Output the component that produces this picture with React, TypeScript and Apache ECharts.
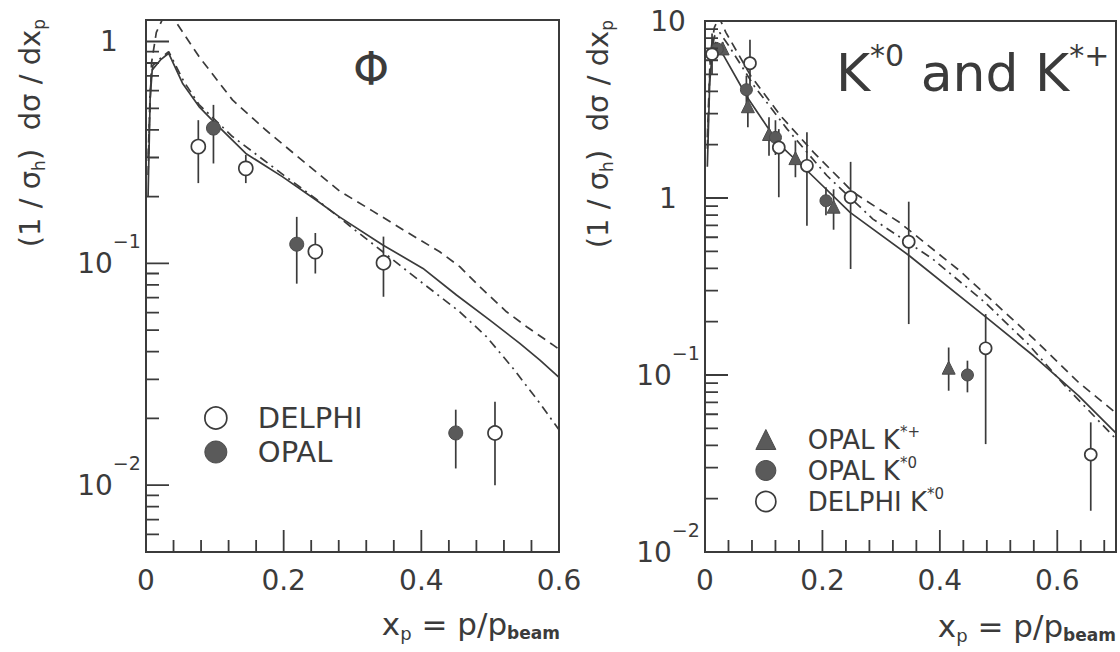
import React, { useEffect, useRef } from 'react';
import * as echarts from 'echarts';

// ---------- Left panel: phi ----------
const phiDelphiX = [0.076, 0.145, 0.246, 0.345, 0.507];
const phiDelphiY = [0.336, 0.268, 0.113, 0.1006, 0.0172];
const phiDelphiLo = [0.23, 0.23, 0.09, 0.0707, 0.01];
const phiDelphiHi = [0.442, 0.308, 0.137, 0.132, 0.0238];

const phiOpalX = [0.098, 0.219, 0.45];
const phiOpalY = [0.407, 0.122, 0.0172];
const phiOpalLo = [0.282, 0.081, 0.0119];
const phiOpalHi = [0.518, 0.162, 0.0219];

const phiSolidX = [0.003, 0.006, 0.009, 0.021, 0.033, 0.053, 0.077, 0.1, 0.145, 0.198, 0.247, 0.281, 0.344, 0.4024, 0.451, 0.4995, 0.543, 0.5723, 0.6];
const phiSolidY = [0.2, 0.55, 0.745, 0.826, 0.885, 0.649, 0.509, 0.43, 0.313, 0.246, 0.193, 0.162, 0.121, 0.0949, 0.072, 0.0555, 0.0436, 0.0366, 0.0306];

const phiDashX = [0.003, 0.008, 0.015, 0.026, 0.032, 0.038, 0.077, 0.1256, 0.174, 0.223, 0.281, 0.3295, 0.378, 0.4267, 0.4558, 0.485, 0.5238, 0.553, 0.5917, 0.6];
const phiDashY = [0.3, 0.8, 1.1, 1.3, 1.36, 1.3, 0.855, 0.5455, 0.399, 0.298, 0.212, 0.172, 0.139, 0.1128, 0.0966, 0.0784, 0.0605, 0.0518, 0.0428, 0.041];

const phiDashDotX = [0.003, 0.006, 0.01, 0.021, 0.033, 0.055, 0.077, 0.1256, 0.2, 0.247, 0.3004, 0.344, 0.4024, 0.4558, 0.4947, 0.5334, 0.5723, 0.5917, 0.6];
const phiDashDotY = [0.25, 0.6, 0.78, 0.84, 0.9, 0.66, 0.52, 0.373, 0.25, 0.195, 0.1439, 0.1128, 0.0812, 0.0605, 0.0467, 0.0336, 0.0234, 0.0193, 0.0178];

// ---------- Right panel: K*0 and K*+ ----------
const kpX = [0.03, 0.073, 0.109, 0.154, 0.219, 0.415];
const kpY = [7.0, 3.3, 2.3, 1.68, 0.893, 0.11];
const kpLo = [6.4, 2.51, 1.73, 1.31, 0.662, 0.0815];
const kpHi = [7.6, 4.04, 2.86, 2.11, 1.12, 0.143];

const k0OpalX = [0.021, 0.0705, 0.12, 0.206, 0.447];
const k0OpalY = [6.95, 4.09, 2.2, 0.965, 0.1];
const k0OpalLo = [6.3, 3.4, 1.75, 0.8, 0.0798];
const k0OpalHi = [7.6, 4.91, 2.75, 1.15, 0.1205];

const k0DelphiX = [0.012, 0.0766, 0.1257, 0.1736, 0.248, 0.347, 0.478, 0.657];
const k0DelphiY = [6.5, 5.77, 1.93, 1.52, 1.01, 0.566, 0.1415, 0.0355];
const k0DelphiLo = [5.0, 4.04, 1.01, 0.697, 0.397, 0.194, 0.0407, 0.0171];
const k0DelphiHi = [8.5, 7.84, 2.45, 2.35, 1.6, 0.953, 0.221, 0.054];

const kSolidX = [0.004, 0.008, 0.013, 0.018, 0.027, 0.072, 0.1256, 0.1736, 0.247, 0.348, 0.478, 0.56, 0.636, 0.7];
const kSolidY = [1.5, 4.5, 7.0, 7.6, 6.8, 3.71, 2.02, 1.43, 0.83, 0.472, 0.213, 0.128, 0.0764, 0.047];

const kDashX = [0.004, 0.009, 0.016, 0.024, 0.0355, 0.0778, 0.1285, 0.185, 0.252, 0.331, 0.433, 0.486, 0.56, 0.636, 0.7];
const kDashY = [2.2, 6.5, 9.2, 10.5, 8.63, 4.91, 2.92, 1.81, 1.08, 0.729, 0.39, 0.269, 0.16, 0.091, 0.061];

const kDashDotX = [0.004, 0.009, 0.016, 0.025, 0.04, 0.0834, 0.14, 0.2075, 0.286, 0.388, 0.478, 0.55, 0.613, 0.7];
const kDashDotY = [1.9, 6.0, 8.2, 8.6, 7.3, 4.31, 2.45, 1.34, 0.76, 0.452, 0.255, 0.15, 0.087, 0.0435];

// ---------- Axis ticks and tick labels ----------
const xTickLabels = [0, 0.2, 0.4, 0.6];
const xMinorStep = 0.04;
const yDecadesLeft = [0.001, 0.01, 0.1, 1];
const yDecadesRight = [0.01, 0.1, 1, 10];
const yMinorMantissas = [2, 3, 4, 5, 6, 7, 8, 9];

const INK = '#3b3b3b';
const FONT = 'DejaVu Sans';

// panel geometry (pixels) and ranges
const LEFT_GRID = { left: 146, top: 20, width: 413, height: 532 };
const RIGHT_GRID = { left: 705, top: 21, width: 411, height: 531 };
const LEFT_X = [0, 0.6];
const LEFT_Y = [0.005, 1.25];
const RIGHT_X = [0, 0.7];
const RIGHT_Y = [0.01, 10];

const pairs = (xs: number[], ys: number[]) => xs.map((x, i) => [x, ys[i]]);
const bars = (xs: number[], lo: number[], hi: number[]) => xs.map((x, i) => [x, lo[i], hi[i]]);

const isPow10 = (v: number) => {
  const l = Math.log10(v);
  return Math.abs(l - Math.round(l)) < 1e-6;
};
const yLabel = (v: number) => {
  if (!isPow10(v)) return '';
  const e = Math.round(Math.log10(v));
  if (e === 0) return '1';
  if (e === 1) return '10';
  return '{b|10}{s|\u2212' + -e + '}';
};

// tick values: [value, isMajor]
const yTickValues = (decades: number[], min: number, max: number) => {
  const rows: number[][] = [];
  decades.forEach((d) => {
    if (d > min * 1.001 && d < max * 0.999) rows.push([d, 1]);
    yMinorMantissas.forEach((m) => {
      const v = +(m * d).toPrecision(6);
      if (v > min * 1.001 && v < max * 0.999) rows.push([v, 0]);
    });
  });
  return rows;
};
const xTickValues = (max: number) => {
  const rows: number[][] = [];
  for (let k = 1; k * xMinorStep < max - 1e-9; k++) {
    const v = +(k * xMinorStep).toFixed(4);
    const major = xTickLabels.some((l) => Math.abs(l - v) < 1e-9);
    rows.push([v, major ? 1 : 0]);
  }
  return rows;
};

// Tick marks as short line segments in data space (lengths converted from pixels),
// starting a hair inside the frame.
const tickSegments = (grid: any, xr: number[], yr: number[], yDecades: number[]) => {
  const data: any[] = [];
  const dxPerPx = (xr[1] - xr[0]) / grid.width;
  const decPerPx = Math.log10(yr[1] / yr[0]) / grid.height;
  const x0 = xr[0] + 0.6 * dxPerPx;
  const y0 = yr[0] * Math.pow(10, 0.6 * decPerPx);
  yTickValues(yDecades, yr[0], yr[1]).forEach(([v, major]) => {
    const len = major ? 23 : 13;
    data.push([x0, v], [xr[0] + len * dxPerPx, v], [null, null]);
  });
  xTickValues(xr[1]).forEach(([v, major]) => {
    const len = major ? 22 : 12;
    data.push([v, y0], [v, yr[0] * Math.pow(10, len * decPerPx)], [null, null]);
  });
  return data;
};

const tickLineSeries = (xi: number, data: any[]) => ({
  type: 'line',
  xAxisIndex: xi,
  yAxisIndex: xi,
  data,
  showSymbol: false,
  symbol: 'none',
  connectNulls: false,
  silent: true,
  clip: true,
  z: 6,
  lineStyle: { color: INK, width: 1.8, type: 'solid' },
});

const makeX = (grid: number, max: number) => ({
  type: 'value',
  gridIndex: grid,
  min: 0,
  max,
  interval: 0.2,
  axisLine: { show: true, onZero: false, lineStyle: { color: INK, width: 2 } },
  axisTick: { show: false },
  minorTick: { show: false },
  splitLine: { show: false },
  axisLabel: {
    margin: 14,
    fontSize: 28,
    fontFamily: FONT,
    color: INK,
    formatter: (v: number) => {
      const hit = xTickLabels.find((l) => Math.abs(l - v) < 1e-9);
      return hit === undefined ? '' : hit === 0 ? '0' : String(hit);
    },
  },
});

const makeY = (grid: number, min: number, max: number) => ({
  type: 'log',
  logBase: 10,
  gridIndex: grid,
  min,
  max,
  axisLine: { show: true, lineStyle: { color: INK, width: 2 } },
  axisTick: { show: false },
  minorTick: { show: false },
  splitLine: { show: false },
  axisLabel: {
    margin: 37,
    align: 'center',
    fontSize: 28,
    fontFamily: FONT,
    color: INK,
    formatter: yLabel,
    rich: {
      b: { fontSize: 28, fontFamily: FONT, color: INK },
      s: { fontSize: 19, fontFamily: FONT, color: INK, lineHeight: 19, padding: [0, 0, 44, 0] },
    },
  },
});

const lineSeries = (name: string, xi: number, xs: number[], ys: number[], type: any) => ({
  name,
  type: 'line',
  xAxisIndex: xi,
  yAxisIndex: xi,
  data: pairs(xs, ys),
  showSymbol: false,
  symbol: 'none',
  silent: true,
  clip: true,
  z: 3,
  lineStyle: { color: INK, width: 1.7, type },
});

const errSeries = (xi: number, xs: number[], lo: number[], hi: number[]) => ({
  type: 'custom',
  xAxisIndex: xi,
  yAxisIndex: xi,
  silent: true,
  clip: true,
  z: 4,
  data: bars(xs, lo, hi),
  encode: { x: 0, y: [1, 2] },
  renderItem: (params: any, api: any) => {
    const x = api.value(0);
    const p1 = api.coord([x, api.value(1)]);
    const p2 = api.coord([x, api.value(2)]);
    return {
      type: 'line',
      shape: { x1: p1[0], y1: p1[1], x2: p2[0], y2: p2[1] },
      style: { stroke: INK, lineWidth: 1.7 },
    };
  },
});

const scatterSeries = (name: string, xi: number, xs: number[], ys: number[], symbol: string, size: number, open: boolean) => ({
  name,
  type: 'scatter',
  xAxisIndex: xi,
  yAxisIndex: xi,
  data: pairs(xs, ys),
  symbol,
  symbolSize: size,
  silent: true,
  z: 5,
  itemStyle: open
    ? { color: '#ffffff', borderColor: INK, borderWidth: 1.7, opacity: 1 }
    : { color: '#5a5a5a', borderColor: '#4a4a4a', borderWidth: 1, opacity: 1 },
});

const supFmt = (name: string) => {
  const m = name.match(/^(.*?)\*(.+)$/);
  return m ? '{b|' + m[1] + '}{s|*' + m[2] + '}' : '{b|' + name + '}';
};

const yTitle = (x: number, y: number) => ({
  type: 'text', x, y, rotation: Math.PI / 2, silent: true,
  style: {
    text: '(1 / \u03C3{s|h})  d\u03C3 / dx{s|p}', fontSize: 29, fontFamily: FONT, fill: INK, lineHeight: 29,
    align: 'right', verticalAlign: 'middle',
    rich: { s: { fontSize: 17, fontFamily: FONT, fill: INK, lineHeight: 17, padding: [18, 0, 0, 0] } },
  },
});
const xTitle = (x: number, y: number) => ({
  type: 'text', x, y, silent: true,
  style: {
    text: 'x{s|p} = p/p{b|beam}', fontSize: 31, fontFamily: FONT, fill: INK, lineHeight: 31,
    align: 'right', verticalAlign: 'middle',
    rich: {
      s: { fontSize: 18, fontFamily: FONT, fill: INK, lineHeight: 18, padding: [18, 0, 0, 0] },
      b: { fontSize: 17, fontWeight: 'bold', fontFamily: FONT, fill: INK, lineHeight: 17, padding: [18, 0, 0, 0] },
    },
  },
});

export default function App() {
  const ref = useRef<HTMLDivElement>(null);
  useEffect(() => {
    if (!ref.current) return;
    const chart = echarts.init(ref.current, undefined, { renderer: 'svg' });
    const option: any = {
      animation: false,
      backgroundColor: '#ffffff',
      grid: [
        { ...LEFT_GRID, show: true, borderColor: INK, borderWidth: 2, backgroundColor: 'transparent' },
        { ...RIGHT_GRID, show: true, borderColor: INK, borderWidth: 2, backgroundColor: 'transparent' },
      ],
      xAxis: [makeX(0, LEFT_X[1]), makeX(1, RIGHT_X[1])],
      yAxis: [makeY(0, LEFT_Y[0], LEFT_Y[1]), makeY(1, RIGHT_Y[0], RIGHT_Y[1])],
      legend: [
        {
          orient: 'vertical',
          left: 204,
          top: 401,
          padding: 0,
          itemGap: 0,
          itemWidth: 22,
          itemHeight: 22,
          selectedMode: false,
          textStyle: { fontSize: 29, fontFamily: FONT, color: INK, lineHeight: 34, padding: [0, 0, 0, 26] },
          data: [
            { name: 'DELPHI', icon: 'circle', itemStyle: { color: '#ffffff', borderColor: INK, borderWidth: 1.7 } },
            { name: 'OPAL', icon: 'circle', itemStyle: { color: '#5a5a5a', borderColor: '#4a4a4a', borderWidth: 1 } },
          ],
        },
        {
          orient: 'vertical',
          left: 755,
          top: 424,
          padding: 0,
          itemGap: 0,
          itemWidth: 20,
          itemHeight: 20,
          selectedMode: false,
          formatter: supFmt,
          textStyle: {
            fontSize: 26,
            fontFamily: FONT,
            color: INK,
            lineHeight: 31,
            padding: [0, 0, 0, 27],
            rich: {
              b: { fontSize: 26, fontFamily: FONT, color: INK, lineHeight: 31 },
              s: { fontSize: 15, fontFamily: FONT, color: INK, lineHeight: 15, verticalAlign: 'top' },
            },
          },
          data: [
            { name: 'OPAL K*+', icon: 'triangle', itemStyle: { color: '#5a5a5a', borderColor: '#4a4a4a', borderWidth: 1 } },
            { name: 'OPAL K*0', icon: 'circle', itemStyle: { color: '#5a5a5a', borderColor: '#4a4a4a', borderWidth: 1 } },
            { name: 'DELPHI K*0', icon: 'circle', itemStyle: { color: '#ffffff', borderColor: INK, borderWidth: 1.7 } },
          ],
        },
      ],
      series: [
        lineSeries('phi solid', 0, phiSolidX, phiSolidY, 'solid'),
        lineSeries('phi dashed', 0, phiDashX, phiDashY, [9, 6]),
        lineSeries('phi dashdot', 0, phiDashDotX, phiDashDotY, [9, 5, 2, 5]),
        tickLineSeries(0, tickSegments(LEFT_GRID, LEFT_X, LEFT_Y, yDecadesLeft)),
        errSeries(0, phiDelphiX, phiDelphiLo, phiDelphiHi),
        errSeries(0, phiOpalX, phiOpalLo, phiOpalHi),
        scatterSeries('DELPHI', 0, phiDelphiX, phiDelphiY, 'circle', 14, true),
        scatterSeries('OPAL', 0, phiOpalX, phiOpalY, 'circle', 14, false),

        lineSeries('k solid', 1, kSolidX, kSolidY, 'solid'),
        lineSeries('k dashed', 1, kDashX, kDashY, [9, 6]),
        lineSeries('k dashdot', 1, kDashDotX, kDashDotY, [9, 5, 2, 5]),
        tickLineSeries(1, tickSegments(RIGHT_GRID, RIGHT_X, RIGHT_Y, yDecadesRight)),
        errSeries(1, kpX, kpLo, kpHi),
        errSeries(1, k0OpalX, k0OpalLo, k0OpalHi),
        errSeries(1, k0DelphiX, k0DelphiLo, k0DelphiHi),
        scatterSeries('OPAL K*+', 1, kpX, kpY, 'triangle', 13, false),
        scatterSeries('OPAL K*0', 1, k0OpalX, k0OpalY, 'circle', 12, false),
        scatterSeries('DELPHI K*0', 1, k0DelphiX, k0DelphiY, 'circle', 12, true),
      ],
      graphic: [
        {
          type: 'text', x: 371, y: 69, silent: true,
          style: { text: '\u03A6', fontSize: 46, fontFamily: FONT, fill: INK, align: 'center', verticalAlign: 'middle' },
        },
        {
          type: 'text', x: 836, y: 73, silent: true,
          style: {
            text: 'K{s|*0} and K{s|*+}', fontSize: 52, fontFamily: FONT, fill: INK, lineHeight: 52,
            align: 'left', verticalAlign: 'middle',
            rich: { s: { fontSize: 30, fontFamily: FONT, fill: INK, lineHeight: 30, padding: [0, 0, 35, 0] } },
          },
        },
        yTitle(30, 19),
        yTitle(598, 20),
        xTitle(560, 624),
        xTitle(1116, 626),
      ],
    };
    chart.setOption(option);
    return () => chart.dispose();
  }, []);
  return (
    <div
      ref={ref}
      style={{ position: 'fixed', left: 0, top: 0, width: 1120, height: 652, background: '#ffffff' }}
    />
  );
}
